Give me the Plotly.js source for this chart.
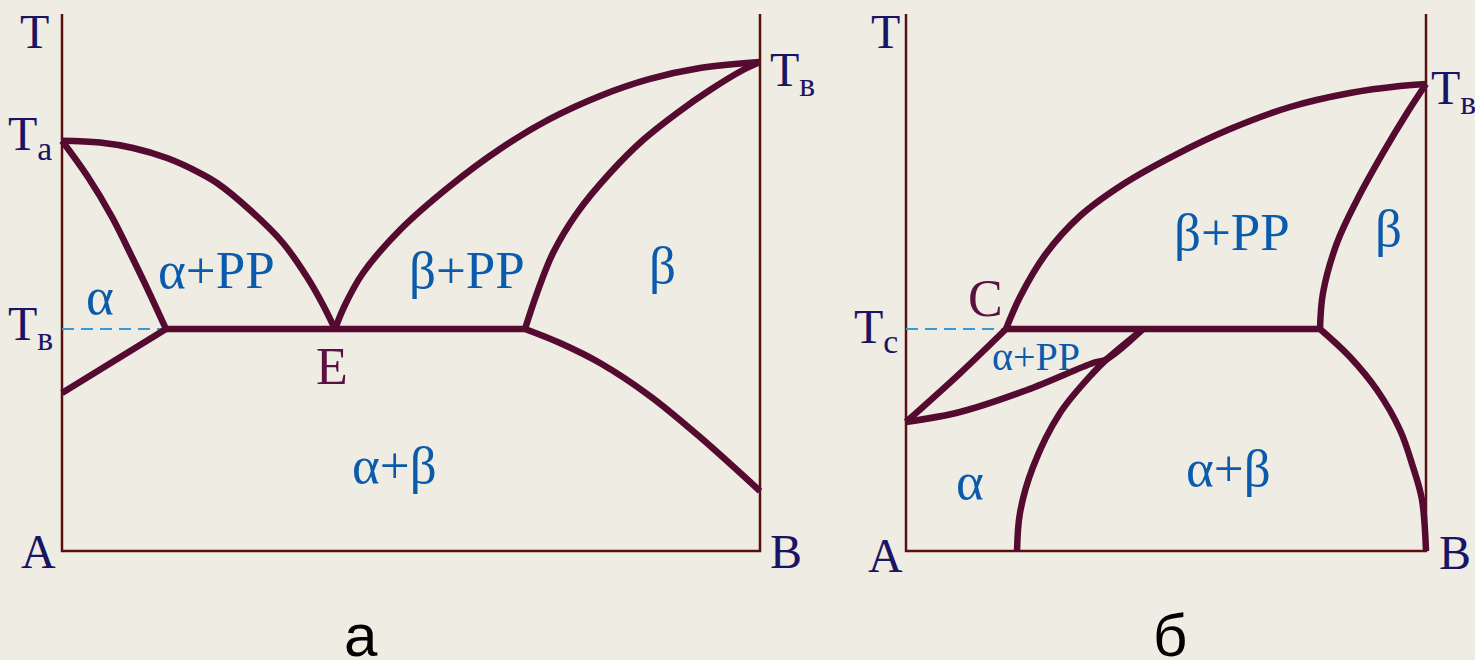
<!DOCTYPE html>
<html>
<head>
<meta charset="utf-8">
<script src="https://cdn.plot.ly/plotly-3.0.1.min.js"></script>
<style>
  html, body { margin: 0; padding: 0; background: #eeece3; }
  #chart { width: 1475px; height: 660px; }
</style>
</head>
<body>
<div id="chart"></div>
<script>
// Two binary phase diagrams: (а) eutectic, (б) peritectic
// composition: 0 = A, 100 = B; temperature in relative units (0..100)

// frame of each diagram (left axis, bottom, right axis)
const FRAME_X = [0, 0, 100, 100];
const FRAME_T = [100, 0, 0, 100];

// ---- diagram а ----
const A_LIQ_ALPHA_X = [0, 5.44, 10.17, 15.04, 19.77, 22.21, 26.93, 31.66, 35.10, 37.25, 39.11];
const A_LIQ_ALPHA_T = [76.4, 76.07, 75.05, 73.18, 70.39, 68.53, 63.5, 57.36, 51.02, 46.18, 41.34];
const A_SOL_ALPHA_X = [0, 3.72, 7.16, 10.03, 12.32, 14.9];
const A_SOL_ALPHA_T = [76.4, 69.65, 62.2, 54.75, 48.6, 41.34];
const A_SOLVUS_ALPHA_X = [14.9, 0];
const A_SOLVUS_ALPHA_T = [41.34, 29.42];
const A_EUTECTIC_X = [14.9, 66.33];
const A_EUTECTIC_T = [41.34, 41.34];
const A_LIQ_BETA_X = [39.11, 40.54, 43.12, 48.42, 55.59, 62.75, 69.91, 77.08, 84.24, 91.40, 100];
const A_LIQ_BETA_T = [41.34, 45.81, 51.77, 59.78, 67.97, 74.86, 80.45, 84.73, 87.90, 89.94, 91.06];
const A_SOL_BETA_X = [66.33, 68.05, 70.34, 73.78, 78.51, 83.24, 88.11, 92.84, 97.56, 100];
const A_SOL_BETA_T = [41.34, 48.04, 55.49, 62.94, 70.39, 76.54, 81.56, 85.85, 89.57, 91.06];
const A_SOLVUS_BETA_X = [66.33, 71.35, 77.08, 84.24, 91.40, 100];
const A_SOLVUS_BETA_T = [41.34, 38.73, 35.01, 28.86, 21.23, 11.17];
const A_DASH_X = [0, 14.9];
const A_DASH_T = [41.34, 41.34];

// ---- diagram б ----
const B_LIQ_X = [19.23, 21.92, 26.73, 33.46, 42.12, 51.73, 62.31, 73.85, 85.38, 95.0, 100];
const B_LIQ_T = [41.34, 47.30, 55.12, 62.38, 68.53, 73.74, 78.58, 82.68, 85.29, 86.59, 86.96];
const B_SOL_BETA_X = [79.62, 80.19, 82.88, 86.73, 91.73, 96.35, 100];
const B_SOL_BETA_T = [41.34, 48.04, 57.36, 65.36, 74.12, 81.56, 86.96];
const B_SOLVUS_BETA_X = [79.62, 85.38, 90.58, 95.0, 97.5, 99.23, 100];
const B_SOLVUS_BETA_T = [41.34, 36.13, 29.98, 22.53, 15.64, 9.50, 0];
const B_PERITECTIC_X = [19.23, 79.62];
const B_PERITECTIC_T = [41.34, 41.34];
const B_LENS_UP_X = [0, 10.38, 19.23];
const B_LENS_UP_T = [24.02, 33.09, 41.34];
const B_LENS_LOW_X = [0, 10.38, 23.27, 35.96, 38.65, 45.58];
const B_LENS_LOW_T = [24.02, 25.88, 29.98, 35.01, 35.75, 41.34];
const B_SOLVUS_ALPHA_X = [45.58, 38.65, 35.96, 29.62, 24.42, 21.92, 21.35];
const B_SOLVUS_ALPHA_T = [41.34, 35.75, 33.15, 25.70, 15.64, 7.08, 0];
const B_DASH_X = [0, 19.23];
const B_DASH_T = [41.34, 41.34];

// labels: [text, x, T, kind, xanchor]
const A_LABELS = [
    ['T', -4.0, 96.8, 'axis', 'center'],
    ['T<sub>a</sub>', -1.2, 77.1, 'axis', 'right'],
    ['T<sub>в</sub>', -1.0, 41.7, 'axis', 'right'],
    ['A', -3.4, 0, 'axis', 'center'],
    ['B', 103.7, 0, 'axis', 'center'],
    ['T<sub>в</sub>', 101.2, 89.0, 'axis', 'left'],
    ['E', 38.7, 34.3, 'point', 'center'],
    ['α', 5.44, 47.5, 'phase', 'center'],
    ['α+РР', 22.2, 52.3, 'phase', 'center'],
    ['β+РР', 58.0, 52.3, 'phase', 'center'],
    ['β', 86.0, 53.3, 'phase', 'center'],
    ['α+β', 47.7, 16.0, 'phase', 'center'],
    ['а', 42.8, -15.8, 'caption', 'center'],
];
const B_LABELS = [
    ['T', -3.85, 96.8, 'axis', 'center'],
    ['T<sub>с</sub>', -1.1, 41.2, 'axis', 'right'],
    ['A', -4.0, -0.9, 'axis', 'center'],
    ['B', 105.6, -0.2, 'axis', 'center'],
    ['T<sub>в</sub>', 100.6, 85.7, 'axis', 'left'],
    ['C', 15.2, 47.1, 'point', 'center'],
    ['α+РР', 25.0, 36.3, 'small', 'center'],
    ['α', 12.3, 13.0, 'phase', 'center'],
    ['α+β', 62.1, 15.5, 'phase', 'center'],
    ['β+РР', 62.7, 59.4, 'phase', 'center'],
    ['β', 92.7, 60.1, 'phase', 'center'],
    ['б', 50.8, -15.8, 'caption', 'center'],
];

const CURVE_COLOR = '#550b30';
const FRAME_COLOR = '#5a1010';
const DASH_COLOR = '#3a9ad8';
const SERIF = "'Liberation Serif', 'Times New Roman', serif";
const LABEL_STYLE = {
    axis: { color: '#1b1464', size: 48, family: SERIF },
    point: { color: '#5a1040', size: 52, family: SERIF },
    phase: { color: '#0b5bac', size: 53, family: SERIF },
    small: { color: '#0b5bac', size: 40, family: SERIF },
    caption: { color: '#000000', size: 60, family: "'Liberation Sans', Arial, sans-serif" },
};

function line(x, y, axis, opts) {
    return {
        x: x,
        y: y,
        xaxis: axis.x,
        yaxis: axis.y,
        type: 'scatter',
        mode: 'lines',
        hoverinfo: 'skip',
        showlegend: false,
        line: Object.assign({ color: CURVE_COLOR, width: 6.5 }, opts),
    };
}

const AX_A = { x: 'x', y: 'y' };
const AX_B = { x: 'x2', y: 'y2' };
const SPL = { shape: 'spline', smoothing: 1 };
const FRAME = { color: FRAME_COLOR, width: 2.5 };
const DASH = { color: DASH_COLOR, width: 1.8, dash: '12px,7px' };

const traces = [
    line(FRAME_X, FRAME_T, AX_A, FRAME),
    line(A_DASH_X, A_DASH_T, AX_A, DASH),
    line(A_LIQ_ALPHA_X, A_LIQ_ALPHA_T, AX_A, SPL),
    line(A_SOL_ALPHA_X, A_SOL_ALPHA_T, AX_A, SPL),
    line(A_SOLVUS_ALPHA_X, A_SOLVUS_ALPHA_T, AX_A, {}),
    line(A_EUTECTIC_X, A_EUTECTIC_T, AX_A, {}),
    line(A_LIQ_BETA_X, A_LIQ_BETA_T, AX_A, SPL),
    line(A_SOL_BETA_X, A_SOL_BETA_T, AX_A, SPL),
    line(A_SOLVUS_BETA_X, A_SOLVUS_BETA_T, AX_A, SPL),

    line(FRAME_X, FRAME_T, AX_B, FRAME),
    line(B_DASH_X, B_DASH_T, AX_B, DASH),
    line(B_LIQ_X, B_LIQ_T, AX_B, SPL),
    line(B_SOL_BETA_X, B_SOL_BETA_T, AX_B, SPL),
    line(B_SOLVUS_BETA_X, B_SOLVUS_BETA_T, AX_B, SPL),
    line(B_PERITECTIC_X, B_PERITECTIC_T, AX_B, {}),
    line(B_LENS_UP_X, B_LENS_UP_T, AX_B, SPL),
    line(B_LENS_LOW_X, B_LENS_LOW_T, AX_B, SPL),
    line(B_SOLVUS_ALPHA_X, B_SOLVUS_ALPHA_T, AX_B, SPL),
];

function toAnnotations(labels, xref, yref) {
    return labels.map(([text, x, t, kind, xanchor]) => ({
        text: text,
        x: x,
        y: t,
        xref: xref,
        yref: yref,
        xanchor: xanchor,
        yanchor: 'middle',
        showarrow: false,
        font: LABEL_STYLE[kind],
    }));
}

const hidden = {
    showgrid: false,
    zeroline: false,
    showticklabels: false,
    ticks: '',
    showline: false,
    fixedrange: true,
};

// ranges chosen so both diagrams share the same temperature scale
const layout = {
    width: 1475,
    height: 660,
    margin: { l: 0, r: 0, t: 0, b: 0 },
    paper_bgcolor: '#eeece3',
    plot_bgcolor: 'rgba(0,0,0,0)',
    showlegend: false,
    xaxis: Object.assign({ domain: [0.004176, 0.553112], range: [-8, 108], anchor: 'y' }, hidden),
    yaxis: Object.assign({ domain: [0.002424, 0.99506], range: [-20, 102], anchor: 'x' }, hidden),
    xaxis2: Object.assign({ domain: [0.586034, 0.994983], range: [-8, 108], anchor: 'y2' }, hidden),
    yaxis2: Object.assign({ domain: [0.002424, 0.99506], range: [-20, 102], anchor: 'x2' }, hidden),
    annotations: [
        ...toAnnotations(A_LABELS, 'x', 'y'),
        ...toAnnotations(B_LABELS, 'x2', 'y2'),
    ],
};

Plotly.newPlot('chart', traces, layout, { displayModeBar: false, staticPlot: true });
</script>
</body>
</html>
